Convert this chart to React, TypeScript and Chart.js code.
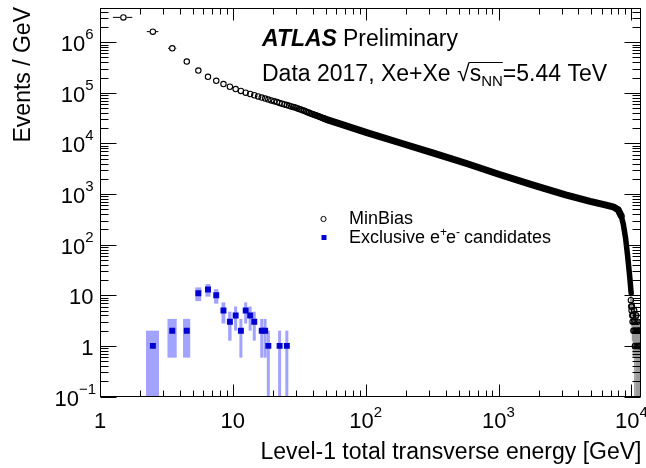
import React, { useEffect, useRef } from 'react';
import { Chart, registerables } from 'chart.js';

Chart.register(...registerables);

// ---- axis ranges ----
const X_MIN = 1;
const X_MAX = 11800;
const Y_MIN = 0.1;
const Y_MAX = 4.75e6;

// ---- tick labels ----
const xTickValues = [1, 10, 100, 1000, 10000];
const xTickBase = ['1', '10', '10', '10', '10'];
const xTickSup = ['', '', '2', '3', '4'];
const yTickValues = [0.1, 1, 10, 100, 1000, 10000, 100000, 1000000];
const yTickBase = ['10', '1', '10', '10', '10', '10', '10', '10'];
const yTickSup = ['\u22121', '', '', '2', '3', '4', '5', '6'];

// ---- MinBias: individually visible bins (Events / GeV) ----
const minBiasX = [
  1.5, 2.5, 3.5, 4.5, 5.5, 6.5, 7.5, 8.5, 9.5, 10.5, 11.5, 12.5, 13.5, 14.5, 15.5, 16.5, 17.5,
  18.5, 19.5, 20.5, 21.5, 22.5, 23.5, 24.5, 25.5, 26.5, 27.5, 28.5, 29.5, 30.5, 31.5, 32.5, 33.5,
  34.5, 35.5, 36.5, 37.5, 38.5, 39.5, 40.5, 41.5, 42.5, 43.5, 44.5, 45.5, 46.5, 47.5, 48.5, 49.5,
];
const minBiasY = [
  3.1e6, 1.62e6, 7.6e5, 4.15e5, 2.76e5, 2.07e5, 1.73e5, 1.49e5, 1.32e5, 1.19e5, 1.09e5, 1.01e5,
  9.5e4, 8.97e4, 8.5e4, 8.07e4, 7.72e4, 7.38e4, 7.08e4, 6.8e4, 6.56e4, 6.33e4, 6.1e4, 5.91e4,
  5.73e4, 5.55e4, 5.4e4, 5.25e4, 5.11e4, 4.98e4, 4.82e4, 4.67e4, 4.53e4, 4.41e4, 4.27e4, 4.15e4,
  4.04e4, 3.93e4, 3.84e4, 3.74e4, 3.66e4, 3.56e4, 3.48e4, 3.4e4, 3.32e4, 3.25e4, 3.19e4, 3.12e4,
  3.06e4,
];

// ---- MinBias: dense region where markers merge into a band ----
const minBiasBandX = [49.5, 51, 65, 102, 183, 324, 575, 1018, 1800, 3200, 4900, 6350, 7290, 7960, 8390];
const minBiasBandY = [3.06e4, 2.95e4, 2.41e4, 1.64e4, 1.02e4, 6470, 4020, 2440, 1520, 964, 718, 612, 560, 489, 372];

// ---- MinBias: steep fall-off ----
const minBiasDropX = [7960, 8390, 8700, 9050, 9380, 9710, 9970];
const minBiasDropY = [489, 372, 253, 134, 59, 24, 11];

// ---- MinBias: low-count tail near 10^4 GeV ----
const minBiasTailX = [
  9920, 9980, 10040, 10100, 10160, 10220, 10290, 10360, 10430, 10500, 10570, 10640, 10720,
  10800, 10880, 10960, 11040, 11120, 11200, 11280, 11360, 11440, 11520, 11600, 11680, 11750,
];
const minBiasTailY = [8, 6, 5, 6, 4, 3, 4, 2, 3, 5, 2, 1, 3, 2, 4, 1, 2, 3, 1, 2, 1, 2, 1, 1, 2, 1];

// ---- Exclusive e+e- candidates ----
const exclX = [2.5, 3.5, 4.5, 5.5, 6.5, 7.5, 8.5, 9.5, 10.5, 11.5, 12.5, 13.5, 14.5, 16.5, 17.5, 18.5, 22.5, 25.5];
const exclY = [1, 2, 2, 11, 13, 10, 5, 3, 4, 2, 5, 4, 3, 2, 2, 1, 1, 1];

const FONT = '"Liberation Sans", Arial, Helvetica, sans-serif';
const BLUE = '#0000d0';
const BOX = 'rgba(70,70,255,0.5)';

const pts = (xs: number[], ys: number[]) => xs.map((x, i) => ({ x, y: ys[i] }));

function drawSupText(
  ctx: CanvasRenderingContext2D,
  base: string,
  sup: string,
  x: number,
  y: number,
  align: 'left' | 'right' | 'center',
  baseFont: string,
  supFont: string,
  rise: number
) {
  ctx.font = baseFont;
  const wb = ctx.measureText(base).width;
  ctx.font = supFont;
  const ws = sup ? ctx.measureText(sup).width : 0;
  const total = wb + ws;
  const x0 = align === 'right' ? x - total : align === 'center' ? x - total / 2 : x;
  ctx.textAlign = 'left';
  ctx.textBaseline = 'alphabetic';
  ctx.font = baseFont;
  ctx.fillText(base, x0, y);
  if (sup) {
    ctx.font = supFont;
    ctx.fillText(sup, x0 + wb, y - rise);
  }
  return x0 + total;
}

const atlasPlugin = {
  id: 'atlasDecor',
  beforeDatasetsDraw(chart: any) {
    const ctx: CanvasRenderingContext2D = chart.ctx;
    const xs = chart.scales.x;
    const ys = chart.scales.y;
    const a = chart.chartArea;
    ctx.save();
    ctx.beginPath();
    ctx.rect(a.left, a.top, a.right - a.left, a.bottom - a.top);
    ctx.clip();
    // exclusive error boxes
    ctx.fillStyle = BOX;
    exclX.forEach((x, i) => {
      const n = exclY[i];
      const e = Math.sqrt(n);
      let x1 = xs.getPixelForValue(x - 0.28);
      let x2 = xs.getPixelForValue(x + 0.28);
      if (x2 - x1 < 3) {
        const c = (x1 + x2) / 2;
        x1 = c - 1.5;
        x2 = c + 1.5;
      }
      const yTop = ys.getPixelForValue(n + e);
      const lo = n - e;
      const yBot = lo > Y_MIN ? ys.getPixelForValue(lo) : a.bottom;
      ctx.fillRect(x1, yTop, x2 - x1, yBot - yTop);
    });
    // tail error bars
    ctx.strokeStyle = '#9a9a9a';
    ctx.lineWidth = 1.6;
    minBiasTailX.forEach((x, i) => {
      const n = minBiasTailY[i];
      const e = Math.sqrt(n);
      const px = xs.getPixelForValue(x);
      const yTop = ys.getPixelForValue(n + e);
      const lo = n - e;
      const yBot = lo > Y_MIN ? ys.getPixelForValue(lo) : a.bottom;
      ctx.beginPath();
      ctx.moveTo(px, yTop);
      ctx.lineTo(px, yBot);
      ctx.stroke();
    });
    // MinBias horizontal bin-width bars
    ctx.strokeStyle = '#000';
    ctx.lineWidth = 1;
    minBiasX.forEach((x, i) => {
      const py = ys.getPixelForValue(minBiasY[i]);
      const pc = xs.getPixelForValue(x);
      const p1 = xs.getPixelForValue(x - 0.25);
      const p2 = xs.getPixelForValue(x + 0.25);
      const r = 3;
      if (pc - p1 > r + 0.5) {
        ctx.beginPath();
        ctx.moveTo(p1, py);
        ctx.lineTo(pc - r, py);
        ctx.moveTo(pc + r, py);
        ctx.lineTo(p2, py);
        ctx.stroke();
      }
    });
    ctx.restore();
  },
  afterDraw(chart: any) {
    const ctx: CanvasRenderingContext2D = chart.ctx;
    const xs = chart.scales.x;
    const ys = chart.scales.y;
    const a = chart.chartArea;
    ctx.save();
    ctx.strokeStyle = '#000';
    ctx.fillStyle = '#000';
    ctx.lineWidth = 1;
    const L = Math.round(a.left) + 0.5;
    const R = Math.round(a.right) - 0.5;
    const T = Math.round(a.top) + 0.5;
    const B = Math.round(a.bottom) - 0.5;
    ctx.strokeRect(L, T, R - L, B - T);

    // y ticks (major + minor), both sides, pointing inward
    ctx.beginPath();
    for (let k = -1; k <= 6; k++) {
      for (let d = 1; d <= 9; d++) {
        const v = d * Math.pow(10, k);
        if (v < Y_MIN || v > Y_MAX) continue;
        const py = Math.round(ys.getPixelForValue(v)) + 0.5;
        const len = d === 1 ? 16 : 8;
        ctx.moveTo(L, py);
        ctx.lineTo(L + len, py);
        ctx.moveTo(R, py);
        ctx.lineTo(R - len, py);
      }
    }
    // x ticks, bottom and top
    for (let k = 0; k <= 4; k++) {
      for (let d = 1; d <= 9; d++) {
        const v = d * Math.pow(10, k);
        if (v < X_MIN || v > X_MAX) continue;
        const px = Math.round(xs.getPixelForValue(v)) + 0.5;
        const len = d === 1 ? 12 : 6;
        ctx.moveTo(px, B);
        ctx.lineTo(px, B - len);
        ctx.moveTo(px, T);
        ctx.lineTo(px, T + len);
      }
    }
    ctx.stroke();

    const baseFont = `22px ${FONT}`;
    const supFont = `15px ${FONT}`;
    // y tick labels
    yTickValues.forEach((v, i) => {
      const py = ys.getPixelForValue(v);
      const xr = yTickSup[i].length > 1 ? 96 : 93.5;
      drawSupText(ctx, yTickBase[i], yTickSup[i], xr, py + 9, 'right', baseFont, supFont, 12);
    });
    // x tick labels
    xTickValues.forEach((v, i) => {
      const px = xs.getPixelForValue(v);
      drawSupText(ctx, xTickBase[i], xTickSup[i], px, 428, 'center', baseFont, supFont, 11);
    });

    // axis titles
    ctx.font = `23px ${FONT}`;
    ctx.textAlign = 'right';
    ctx.textBaseline = 'alphabetic';
    ctx.fillText('Level-1 total transverse energy [GeV]', 641.5, 459);
    ctx.save();
    ctx.translate(30, 7);
    ctx.rotate(-Math.PI / 2);
    ctx.textAlign = 'right';
    ctx.fillText('Events / GeV', 0, 0);
    ctx.restore();

    // ATLAS label
    ctx.textAlign = 'left';
    ctx.font = `italic bold 23px ${FONT}`;
    ctx.fillText('ATLAS', 262, 46);
    ctx.font = `23px ${FONT}`;
    ctx.fillText('Preliminary', 343, 46);

    // Data line with sqrt(s_NN)
    let x = 262;
    const yb = 81;
    ctx.font = `23px ${FONT}`;
    const t1 = 'Data 2017, Xe+Xe ';
    ctx.fillText(t1, x, yb);
    x += ctx.measureText(t1).width;
    ctx.fillText('\u221A', x, yb);
    const wr = ctx.measureText('\u221A').width;
    const sx = x + wr;
    ctx.fillText('s', sx, yb);
    const wsx = ctx.measureText('s').width;
    ctx.font = `15px ${FONT}`;
    ctx.fillText('NN', sx + wsx, yb + 5);
    const wnn = ctx.measureText('NN').width;
    ctx.beginPath();
    ctx.moveTo(sx - 1, yb - 18.5);
    ctx.lineTo(sx + wsx + wnn, yb - 18.5);
    ctx.lineWidth = 1;
    ctx.stroke();
    ctx.font = `23px ${FONT}`;
    ctx.fillText('=5.44 TeV', sx + wsx + wnn, yb);

    // legend
    ctx.beginPath();
    ctx.arc(323.5, 219, 2.6, 0, Math.PI * 2);
    ctx.strokeStyle = '#000';
    ctx.lineWidth = 1;
    ctx.stroke();
    ctx.fillStyle = '#000';
    ctx.font = `18px ${FONT}`;
    ctx.fillText('MinBias', 349, 223.5);
    ctx.fillStyle = BLUE;
    ctx.fillRect(321.5, 235, 5, 5);
    ctx.fillStyle = '#000';
    let lx = 349;
    const lb = 243;
    ctx.font = `18px ${FONT}`;
    ctx.fillText('Exclusive e', lx, lb);
    lx += ctx.measureText('Exclusive e').width;
    ctx.font = `12px ${FONT}`;
    ctx.fillText('+', lx, lb - 7);
    lx += ctx.measureText('+').width - 1;
    ctx.font = `18px ${FONT}`;
    ctx.fillText('e', lx, lb);
    lx += ctx.measureText('e').width;
    ctx.font = `12px ${FONT}`;
    ctx.fillText('-', lx, lb - 7);
    lx += ctx.measureText('-').width - 1;
    ctx.font = `18px ${FONT}`;
    ctx.fillText(' candidates', lx, lb);

    ctx.restore();
  },
};

export default function App() {
  const canvasRef = useRef<HTMLCanvasElement | null>(null);

  useEffect(() => {
    document.body.style.margin = '0';
    const canvas = canvasRef.current;
    if (!canvas) return;
    const chart = new Chart(canvas, {
      type: 'scatter',
      data: {
        datasets: [
          {
            label: 'Exclusive e+e- candidates',
            data: pts(exclX, exclY),
            pointStyle: 'rect',
            pointRadius: 4.2,
            borderWidth: 0,
            backgroundColor: BLUE,
            borderColor: BLUE,
            showLine: false,
          },
          {
            label: 'MinBias',
            data: pts(minBiasX, minBiasY),
            pointStyle: 'circle',
            pointRadius: 2.7,
            borderWidth: 1.1,
            borderColor: '#000',
            backgroundColor: 'rgba(0,0,0,0)',
            showLine: false,
          },
          {
            label: 'MinBias tail',
            data: pts(minBiasTailX, minBiasTailY),
            pointStyle: 'circle',
            pointRadius: 2.7,
            borderWidth: 1.1,
            borderColor: '#000',
            backgroundColor: 'rgba(0,0,0,0)',
            showLine: false,
          },
          {
            label: 'MinBias band',
            type: 'line',
            data: pts(minBiasBandX, minBiasBandY),
            borderColor: '#000',
            borderWidth: 7,
            pointRadius: 0,
            tension: 0,
            fill: false,
            borderCapStyle: 'round',
            borderJoinStyle: 'round',
          } as any,
          {
            label: 'MinBias drop',
            type: 'line',
            data: pts(minBiasDropX, minBiasDropY),
            borderColor: '#000',
            borderWidth: 5.5,
            pointRadius: 0,
            tension: 0,
            fill: false,
            borderCapStyle: 'round',
            borderJoinStyle: 'round',
          } as any,
        ],
      },
      options: {
        responsive: false,
        devicePixelRatio: 1,
        animation: false,
        layout: { padding: { left: 100, right: 4.5, top: 8, bottom: 71.5 } },
        scales: {
          x: { type: 'logarithmic', min: X_MIN, max: X_MAX, display: false },
          y: { type: 'logarithmic', min: Y_MIN, max: Y_MAX, display: false },
        },
        plugins: {
          legend: { display: false },
          tooltip: { enabled: false },
        },
      },
      plugins: [atlasPlugin],
    });
    return () => chart.destroy();
  }, []);

  return (
    <div style={{ width: 646, height: 468, background: '#fff' }}>
      <canvas ref={canvasRef} width={646} height={468} style={{ display: 'block' }} />
    </div>
  );
}
